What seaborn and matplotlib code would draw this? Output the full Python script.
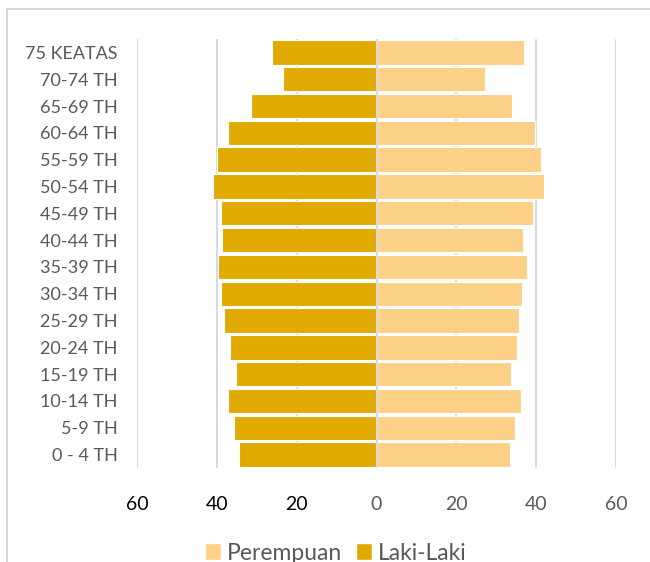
import matplotlib
matplotlib.use("Agg")
import matplotlib.pyplot as plt
from matplotlib.patches import Rectangle, Patch
import pandas as pd
import seaborn as sns

# Age groups, top to bottom as drawn
age_groups = ['75 KEATAS', '70-74 TH', '65-69 TH', '60-64 TH', '55-59 TH',
              '50-54 TH', '45-49 TH', '40-44 TH', '35-39 TH', '30-34 TH',
              '25-29 TH', '20-24 TH', '15-19 TH', '10-14 TH', '5-9 TH', '0 - 4 TH']
laki_laki = [26.2, 23.4, 31.4, 37.2, 40.0, 41.0, 38.9, 38.7, 39.7, 38.9,
             38.2, 36.6, 35.1, 37.3, 35.8, 34.5]
perempuan = [36.9, 27.2, 34.0, 39.6, 41.3, 41.9, 39.1, 36.7, 37.7, 36.5,
             35.8, 35.3, 33.7, 36.2, 34.8, 33.4]
x_ticks = [-60, -40, -20, 0, 20, 40, 60]

COL_L = '#E1AA00'
COL_P = '#FDD088'
GREY = '#595959'
GRID = '#D9D9D9'

df = pd.concat([
    pd.DataFrame({'Umur': age_groups, 'Jumlah': perempuan, 'Jenis': 'Perempuan'}),
    pd.DataFrame({'Umur': age_groups, 'Jumlah': [-v for v in laki_laki], 'Jenis': 'Laki-Laki'}),
])

sns.set_style('white')
plt.rcParams['font.family'] = ['Lato', 'DejaVu Sans']

fig = plt.figure(figsize=(6.5, 5.62), dpi=100)
ax = fig.add_axes([137 / 650, 94 / 562, 479 / 650, 429 / 562])

sns.barplot(data=df, x='Jumlah', y='Umur', hue='Jenis', order=age_groups,
            hue_order=['Perempuan', 'Laki-Laki'], palette=[COL_P, COL_L],
            saturation=1, dodge=False, width=0.91, orient='h',
            edgecolor='white', linewidth=0.8, legend=False, ax=ax)

ax.set_xlim(-60, 60)
ax.set_xticks(x_ticks)
ax.set_xticklabels([str(abs(t)) for t in x_ticks], fontsize=14)
for lbl, t in zip(ax.get_xticklabels(), x_ticks):
    lbl.set_color('black' if t < 0 else GREY)
ax.tick_params(axis='x', length=0, pad=20)
ax.tick_params(axis='y', length=0, pad=14, labelsize=13, labelcolor=GREY)
ax.set_xlabel('')
ax.set_ylabel('')

ax.grid(axis='x', color=GRID, linewidth=1.5)
ax.set_axisbelow(True)
for s in ax.spines.values():
    s.set_visible(False)
ax.axvline(0, color=GRID, linewidth=1.5, zorder=3)

handles = [Patch(facecolor=COL_P, label='Perempuan'),
           Patch(facecolor=COL_L, label='Laki-Laki')]
fig.legend(handles=handles, loc='center', bbox_to_anchor=(336 / 650, 9 / 562),
           ncol=2, frameon=False, fontsize=16.5, labelcolor=GREY,
           handlelength=0.7, handleheight=0.7, handletextpad=0.25,
           columnspacing=0.6)

fig.add_artist(Rectangle((7 / 650, -0.1), 1.2, 1.1 - 9 / 562,
                         transform=fig.transFigure, fill=False,
                         edgecolor=GRID, linewidth=1.5))

fig.savefig('out.png', dpi=100)
